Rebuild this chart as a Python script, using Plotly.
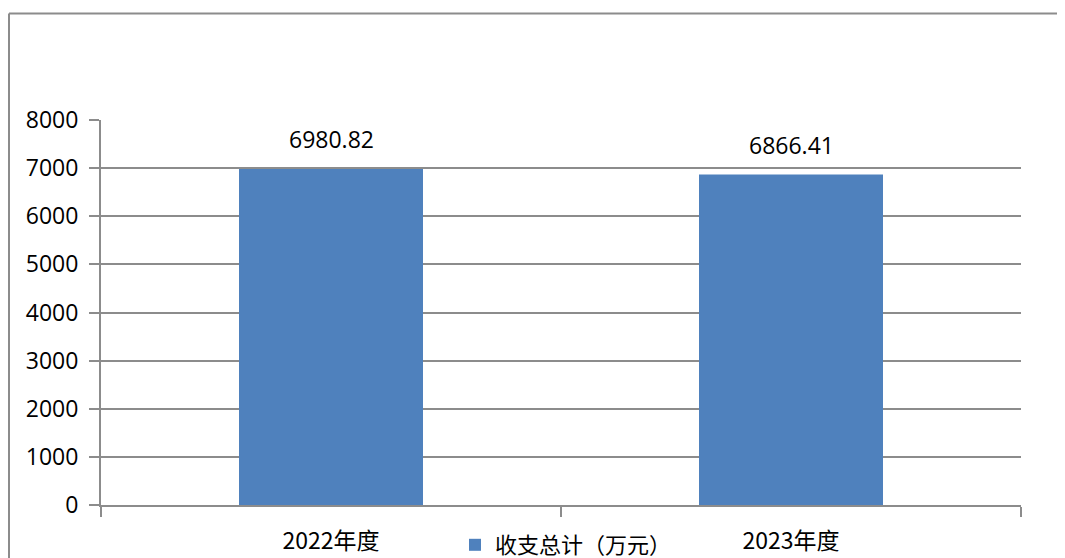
import plotly.graph_objects as go

categories = ["2022年度", "2023年度"]
values = [6980.82, 6866.41]
value_labels = ["6980.82", "6866.41"]
series_name = "收支总计（万元）"
y_ticks = [0, 1000, 2000, 3000, 4000, 5000, 6000, 7000, 8000]

OFF = 8  # page body margin
W, H = 1065 - OFF, 558 - OFF
L, T = 101 - OFF, 120 - OFF
R = W - (1021 - OFF)
B = H - (505 - OFF)
pw, ph = W - L - R, H - T - B

fig = go.Figure()
fig.add_trace(go.Bar(
    x=categories, y=values, name=series_name,
    marker=dict(color="#4F81BD", line=dict(width=0)),
    width=0.4, showlegend=True,
))

for c, v, t in zip(categories, values, value_labels):
    fig.add_annotation(x=c, y=v, text=t, showarrow=False, yshift=30,
                       font=dict(family="Open Sans", size=23, color="#000000"))

def px_x(x):
    return (x - OFF - L) / pw

def px_y(y):
    return (H - B - (y - OFF)) / ph

fig.add_shape(type="line", xref="paper", yref="paper",
              x0=px_x(9), x1=px_x(1075), y0=px_y(13.5), y1=px_y(13.5),
              line=dict(color="#8c8c8c", width=2))
fig.add_shape(type="line", xref="paper", yref="paper",
              x0=px_x(9), x1=px_x(9), y0=px_y(13.5), y1=px_y(570),
              line=dict(color="#8c8c8c", width=2))

fig.update_layout(
    width=W, height=H,
    margin=dict(l=L, r=R, t=T, b=B, autoexpand=False),
    paper_bgcolor="white", plot_bgcolor="white",
    bargap=0.6,
    showlegend=True,
    legend=dict(orientation="h", x=px_x(455), xanchor="left",
                y=-19 / ph, yanchor="top",
                font=dict(family="Noto Sans CJK SC", size=22, color="#000000"),
                bgcolor="rgba(0,0,0,0)", itemwidth=30, tracegroupgap=0),
    xaxis=dict(
        type="category", showgrid=False, showline=True, linecolor="#8c8c8c", linewidth=2,
        ticks="outside", tickson="boundaries", ticklen=10, tickcolor="#8c8c8c", tickwidth=2,
        tickfont=dict(family="Noto Sans CJK SC", size=23, color="#000000"),
        ticklabelstandoff=14,
        zeroline=False,
    ),
    yaxis=dict(
        range=[0, 8000], tickvals=y_ticks, ticktext=[str(v) for v in y_ticks],
        showgrid=True, gridcolor="#8c8c8c", gridwidth=2,
        showline=True, linecolor="#8c8c8c", linewidth=2,
        ticks="outside", ticklen=10, tickcolor="#8c8c8c", tickwidth=2,
        tickfont=dict(family="Open Sans", size=23, color="#000000"),
        ticklabelstandoff=6,
        zeroline=False,
    ),
)

fig.write_html("out.html")
